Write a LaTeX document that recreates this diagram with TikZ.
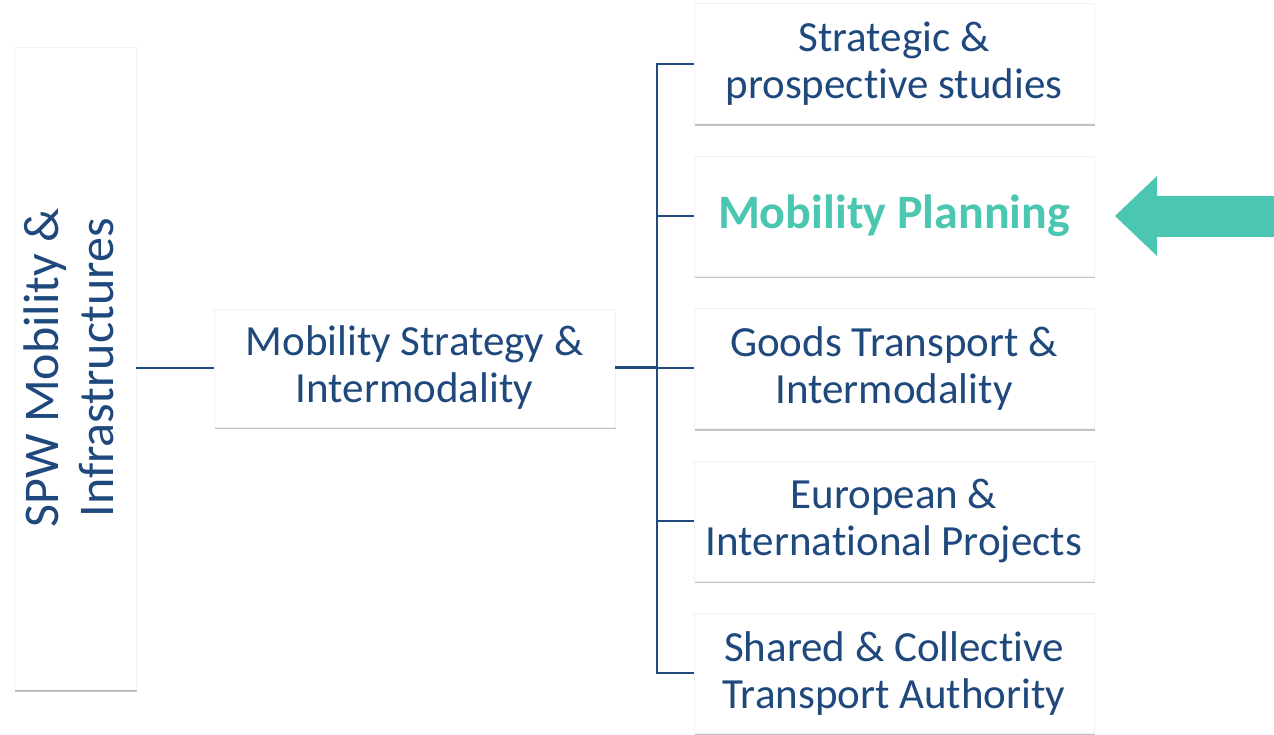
\documentclass[tikz,border=0pt]{standalone}
\usepackage{fontspec}
\setmainfont{Carlito}[RawFeature={-liga;-clig;-dlig;-calt;-hlig}]
\usetikzlibrary{positioning,shadows}
\definecolor{navy}{HTML}{1F497D}
\definecolor{mplteal}{HTML}{4BC6B0}
\newcommand{\nolig}{\kern0pt}

\begin{document}
\begin{tikzpicture}[x=1pt,y=1pt,node distance=32pt,
    box/.style={rectangle,fill=white,draw=black!5,text=navy,align=center,
      font=\fontsize{43}{47}\selectfont,
      drop shadow={shadow xshift=0.5pt,shadow yshift=-2.5pt,opacity=.4,fill=black!60}},
    unit/.style={box,minimum width=400pt,minimum height=120pt},
    link/.style={navy,line width=2pt}]
    \useasboundingbox (0,0) rectangle (1274,734);
		\node[box,minimum width=122pt,minimum height=642pt] (spw) at (75,366)
		  {\rotatebox{90}{\fontsize{50}{55}\selectfont\begin{tabular}{@{}c@{}}SPW Mobility \&\\Infrastructures\end{tabular}}};
		\node[box,minimum width=401pt,minimum height=118pt] (strat) at (414.5,366) {Mobility Strategy \&\\Intermodality};
		\node[unit,text=mplteal,font=\fontsize{48}{52}\selectfont\bfseries] (plan) at (894,518) {Mobility Planning};
		\node[unit]  (studies)  [above=of plan]    {Strategic \&\\prospect\nolig ive studies};
		\node[unit]  (goods)    [below=of plan]    {Goods Transport \&\\Intermodality};
		\node[unit]  (euro)     [below=of goods]   {European \&\\Internat\nolig ional Projects};
		\node[unit]  (shared)   [below=of euro]    {Shared \& Collect\nolig ive\\Transport Authority};
		\coordinate (trunk) at (657,366);
		\draw[link] (spw) -- (strat);
		\draw[link,line width=3pt] (strat) -- (trunk);
		\draw[link,line cap=rect] (trunk |- studies.west) -- (trunk |- shared.west);
		\foreach \b in {studies,plan,goods,euro,shared}
		  \draw[link] (trunk |- \b.west) -- (\b.west);
		% pointer to the highlighted unit
		\fill[mplteal] (1115,518) -- (1157,558) -- (1157,538) -- (1274,538)
		  -- (1274,497) -- (1157,497) -- (1157,478) -- cycle;
\end{tikzpicture}
\end{document}
